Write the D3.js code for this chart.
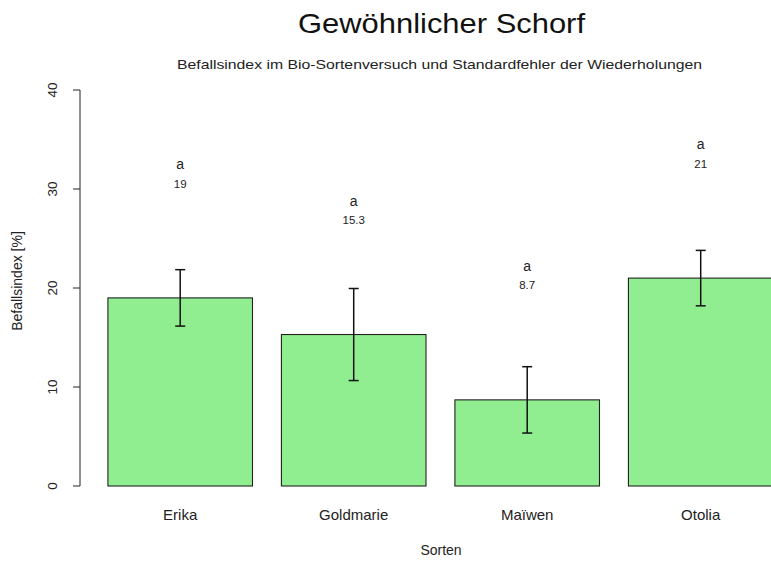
<!DOCTYPE html>
<html>
<head>
<meta charset="utf-8">
<script src="https://cdn.jsdelivr.net/npm/d3@7"></script>
<style>
  html, body { margin: 0; padding: 0; background: #fff; }
  svg { display: block; font-family: "Liberation Sans", Arial, sans-serif; }
</style>
</head>
<body>
<svg id="chart" width="771" height="561"></svg>
<script>
const categories = ["Erika", "Goldmarie", "Maïwen", "Otolia"];
const values = [19, 15.3, 8.7, 21];
const stdErrors = [2.85, 4.65, 3.35, 2.8];
const letters = ["a", "a", "a", "a"];
const valueLabels = ["19", "15.3", "8.7", "21"];
const yTicks = [0, 10, 20, 30, 40];

const svg = d3.select("#chart");
const W = 771, H = 561;
svg.append("rect").attr("width", W).attr("height", H).attr("fill", "#fff");

const y = d3.scaleLinear().domain([0, 40]).range([486, 90]);
// R barplot units: width 1, space 0.2
const x = d3.scaleLinear().domain([0, 4.8]).range([79, 773]);
const barLeft = i => 0.2 + i * 1.2;
const barMid = i => barLeft(i) + 0.5;

const g = svg.append("g");

// bars
g.selectAll("rect.bar").data(values).join("rect")
  .attr("class", "bar")
  .attr("x", (d, i) => x(barLeft(i)))
  .attr("width", (d, i) => x(barLeft(i) + 1) - x(barLeft(i)))
  .attr("y", d => y(d))
  .attr("height", d => y(0) - y(d))
  .attr("fill", "#90EE90")
  .attr("stroke", "#222")
  .attr("stroke-width", 1.1);

// error bars
const eb = g.selectAll("g.eb").data(values).join("g").attr("class", "eb");
eb.append("line")
  .attr("x1", (d, i) => x(barMid(i))).attr("x2", (d, i) => x(barMid(i)))
  .attr("y1", (d, i) => y(d + stdErrors[i])).attr("y2", (d, i) => y(d - stdErrors[i]))
  .attr("stroke", "#111").attr("stroke-width", 1.5);
[1, -1].forEach(s => {
  eb.append("line")
    .attr("x1", (d, i) => x(barMid(i)) - 5).attr("x2", (d, i) => x(barMid(i)) + 5)
    .attr("y1", (d, i) => y(d + s * stdErrors[i])).attr("y2", (d, i) => y(d + s * stdErrors[i]))
    .attr("stroke", "#111").attr("stroke-width", 1.5);
});

// letters and value labels
g.selectAll("text.letter").data(values).join("text")
  .attr("class", "letter")
  .attr("x", (d, i) => x(barMid(i)))
  .attr("y", d => y(d + 13))
  .attr("text-anchor", "middle")
  .attr("font-size", 14)
  .attr("fill", "#222")
  .text((d, i) => letters[i]);
g.selectAll("text.val").data(values).join("text")
  .attr("class", "val")
  .attr("x", (d, i) => x(barMid(i)))
  .attr("y", d => y(d + 11.15))
  .attr("text-anchor", "middle")
  .attr("font-size", 11.5)
  .attr("fill", "#222")
  .text((d, i) => valueLabels[i]);

// y axis
const yAxis = svg.append("g");
yAxis.append("line").attr("x1", 80).attr("x2", 80)
  .attr("y1", y(40)).attr("y2", y(0)).attr("stroke", "#222").attr("stroke-width", 1);
yAxis.selectAll("line.tick").data(yTicks).join("line")
  .attr("class", "tick")
  .attr("x1", 73).attr("x2", 80)
  .attr("y1", d => y(d)).attr("y2", d => y(d))
  .attr("stroke", "#222");
yAxis.selectAll("text").data(yTicks).join("text")
  .attr("transform", d => `translate(57,${y(d)}) rotate(-90)`)
  .attr("text-anchor", "middle")
  .attr("font-size", 13.5)
  .attr("fill", "#222")
  .text(d => d);

// category labels
svg.selectAll("text.cat").data(categories).join("text")
  .attr("class", "cat")
  .attr("x", (d, i) => x(barMid(i)))
  .attr("y", 520)
  .attr("text-anchor", "middle")
  .attr("font-size", 15)
  .attr("fill", "#222")
  .text(d => d);

// axis titles
svg.append("text").attr("x", 441).attr("y", 555)
  .attr("text-anchor", "middle").attr("font-size", 14).attr("fill", "#222").text("Sorten");
svg.append("text").attr("transform", "translate(22,281) rotate(-90)")
  .attr("text-anchor", "middle").attr("font-size", 14).attr("fill", "#222").text("Befallsindex [%]");

// titles
svg.append("text").attr("x", 441.5).attr("y", 33)
  .attr("text-anchor", "middle").attr("font-size", 28).attr("fill", "#111")
  .attr("textLength", 287).attr("lengthAdjust", "spacingAndGlyphs")
  .text("Gewöhnlicher Schorf");
svg.append("text").attr("x", 439.5).attr("y", 68.5)
  .attr("text-anchor", "middle").attr("font-size", 12.6).attr("fill", "#222")
  .attr("textLength", 525).attr("lengthAdjust", "spacingAndGlyphs")
  .text("Befallsindex im Bio-Sortenversuch und Standardfehler der Wiederholungen");
</script>
</body>
</html>
